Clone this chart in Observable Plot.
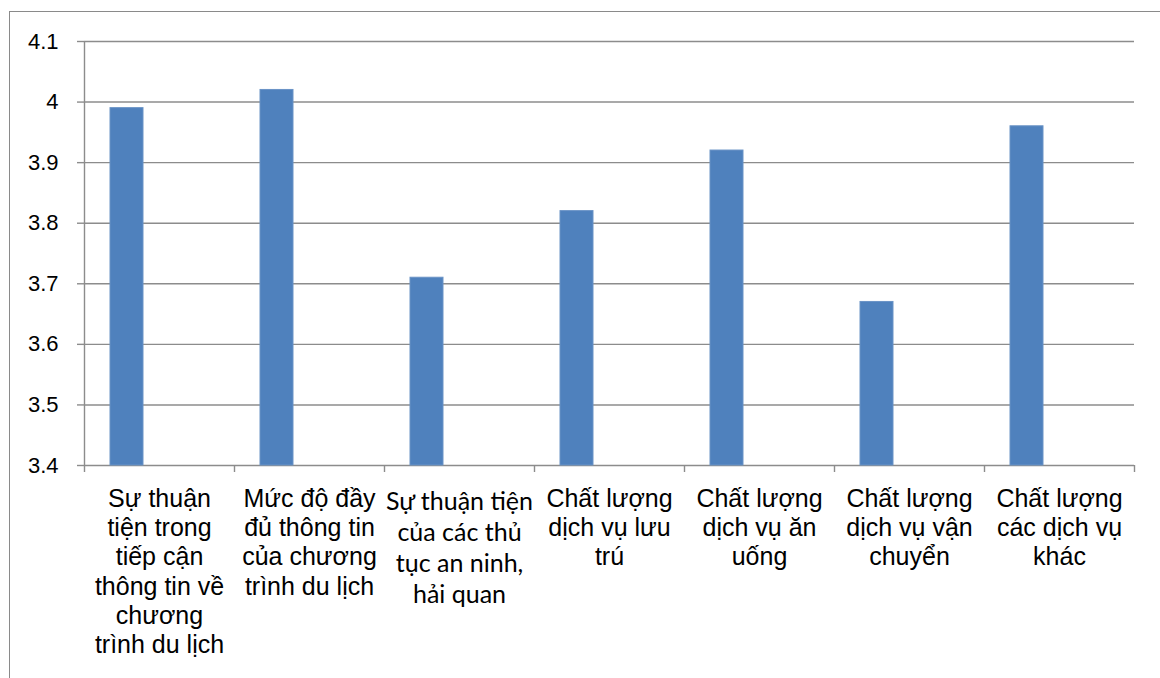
<!DOCTYPE html>
<html><head><meta charset="utf-8">
<script src="https://cdn.jsdelivr.net/npm/d3@7"></script>
<script src="https://cdn.jsdelivr.net/npm/@observablehq/plot@0.6"></script>
<style>
body{margin:0;background:#fff;}
#wrap{position:relative;width:1160px;height:678px;overflow:hidden;background:#fff;}
#wrap svg{position:absolute;left:0;top:0;background:transparent;}
#border{position:absolute;left:9px;top:11px;width:1300px;height:800px;border-left:1.5px solid #8a8a8a;border-top:1.5px solid #8a8a8a;}
</style></head><body><div id="wrap"></div>
<script>
const categories = ["c1","c2","c3","c4","c5","c6","c7"];
const labels = [
  "Sự thuận\ntiện trong\ntiếp cận\nthông tin về\nchương\ntrình du lịch",
  "Mức độ đầy\nđủ thông tin\ncủa chương\ntrình du lịch",
  "Sự thuận tiện\ncủa các thủ\ntục an ninh,\nhải quan",
  "Chất lượng\ndịch vụ lưu\ntrú",
  "Chất lượng\ndịch vụ ăn\nuống",
  "Chất lượng\ndịch vụ vận\nchuyển",
  "Chất lượng\ncác dịch vụ\nkhác"
];
const values = [3.99, 4.02, 3.71, 3.82, 3.92, 3.67, 3.96];
const yTicks = [3.4, 3.5, 3.6, 3.7, 3.8, 3.9, 4.0, 4.1];

const data = categories.map((c, i) => ({cat: c, label: labels[i], value: values[i]}));
const calibriIdx = 2;

const W = 1160, H = 678, mL = 84, mR = 26, mT = 41, mB = 213;
const bw = (W - mL - mR) / categories.length;
const gridColor = "#8c8c8c";

const plot = Plot.plot({
  width: W, height: H,
  marginLeft: mL, marginRight: mR, marginTop: mT, marginBottom: mB,
  style: {background: "transparent", fontFamily: "'Liberation Sans', Arial, sans-serif", color: "#000"},
  x: {domain: categories, padding: 0, axis: null},
  y: {domain: [yTicks[0], yTicks[yTicks.length - 1]], axis: null},
  marks: [
    Plot.gridY(yTicks, {stroke: gridColor, strokeOpacity: 1, strokeWidth: 1.4}),
    Plot.axisY(yTicks, {label: null, tickSize: 7, tickPadding: 19, fontSize: 22, stroke: gridColor, strokeWidth: 1.4, tickFormat: d => String(d), fill: "#000"}),
    Plot.barY(data, {x: "cat", y1: yTicks[0], y2: "value", fill: "#4F81BD", stroke: "#6a93c6", strokeWidth: 1, insetLeft: 26, insetRight: bw - 59}),
    Plot.ruleX([categories[0]], {dx: -bw / 2, insetBottom: -7, stroke: gridColor, strokeWidth: 1.4}),
    Plot.ruleX(categories.slice(1), {dx: -bw / 2, insetTop: H - mT - mB, insetBottom: -7, stroke: gridColor, strokeWidth: 1.4}),
    Plot.ruleX([categories[categories.length - 1]], {dx: bw / 2, insetTop: H - mT - mB, insetBottom: -7, stroke: gridColor, strokeWidth: 1.4}),
    Plot.text(data.filter((d, i) => i !== calibriIdx), {x: "cat", text: "label", frameAnchor: "bottom", lineAnchor: "top", dy: 21, fontSize: 25, lineHeight: 1.165, fill: "#000", fontFamily: "'Liberation Sans', Arial, sans-serif"}),
    Plot.text(data.filter((d, i) => i === calibriIdx), {x: "cat", text: "label", frameAnchor: "bottom", lineAnchor: "top", dy: 22, fontSize: 25, lineHeight: 1.25, fill: "#000", fontFamily: "Lato, sans-serif"})
  ]
});
const wrap = document.getElementById("wrap");
wrap.appendChild(plot);
const border = document.createElement("div");
border.id = "border";
wrap.appendChild(border);
</script>
</body></html>
